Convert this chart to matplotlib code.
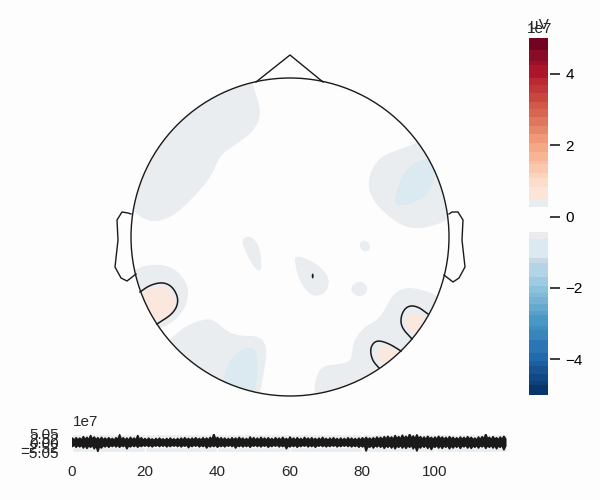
#!/usr/bin/env python3
"""Topomap with a colorbar and a GFP style trace below it."""

import matplotlib
matplotlib.use("Agg")
import matplotlib.pyplot as plt
import numpy as np
from matplotlib.colors import BoundaryNorm, ListedColormap
from matplotlib.patches import Circle, Ellipse, Polygon

head_center = (290, 237)
head_radius = 159
nose = [(256, 82), (290, 55), (323, 82)]
left_ear = [(131, 214), (128, 213), (122, 212), (117, 220), (118, 240),
            (115, 267), (121, 278), (127, 281), (136, 274)]
right_ear = [(449, 214), (452, 212), (458, 212), (463, 220), (462, 240),
             (465, 267), (459, 278), (453, 282), (444, 275)]

# filled regions of the map
grey_regions = [
    [(252, 83), (258, 100), (261, 115), (254, 131), (235, 145), (220, 155), (213, 173),
     (202, 188), (182, 209), (167, 219), (153, 222), (140, 217), (128, 205), (115, 190),
     (120, 120), (200, 60), (250, 70)],
    [(133, 270), (150, 264), (171, 266), (185, 279), (189, 293), (185, 309), (171, 324),
     (158, 329), (140, 335), (118, 300), (120, 275)],
    [(170, 339), (187, 325), (208, 318), (218, 323), (228, 332), (240, 336), (260, 336),
     (267, 347), (265, 367), (260, 392), (257, 415), (210, 410), (165, 370), (160, 350)],
    [(295, 255), (310, 260), (322, 268), (330, 280), (326, 293), (315, 297), (305, 290),
     (298, 277), (295, 263)],
    [(241, 240), (250, 235), (260, 246), (262, 272), (255, 269), (246, 253)],
    [(365, 240), (370, 244), (370, 250), (364, 252), (360, 248), (360, 242)],
    [(359, 281), (366, 284), (368, 291), (363, 296), (356, 296), (351, 291), (352, 285)],
    [(368, 178), (378, 158), (400, 149), (415, 144), (430, 133), (460, 170), (455, 216),
     (430, 228), (405, 228), (384, 213), (370, 196)],
    [(440, 296), (423, 290), (407, 287), (394, 293), (386, 307), (379, 319), (364, 327),
     (354, 340), (352, 352), (351, 361), (340, 364), (322, 366), (316, 377), (314, 392),
     (318, 415), (400, 395), (450, 330)],
]
blue_regions = [
    [(394, 199), (402, 175), (415, 162), (432, 157), (436, 175), (427, 196), (410, 204),
     (397, 206)],
    [(224, 374), (232, 357), (245, 347), (256, 349), (258, 363), (256, 387), (254, 398),
     (240, 405), (222, 392)],
]
orange_regions = [
    [(141, 293), (155, 286), (166, 286), (174, 295), (176, 304), (171, 314), (158, 324),
     (140, 330), (128, 300)],
    [(406, 317), (412, 312), (420, 314), (426, 320), (416, 333), (412, 335), (406, 325)],
    [(377, 352), (383, 345), (391, 347), (402, 353), (386, 367), (379, 361)],
]
contour_lines = [
    [(140, 292), (150, 285), (163, 282), (173, 287), (179, 300), (174, 313), (157, 324)],
    [(428, 314), (417, 306), (407, 306), (401, 315), (401, 327), (412, 339)],
    [(401, 351), (388, 343), (376, 340), (370, 348), (372, 360), (379, 368)],
]
peak_spot = (312.7, 276)

# colorbar bands, from the top down
cbar_levels = [5.0, 4.66, 4.36, 4.24, 3.89, 3.68, 3.46, 3.22, 3.01, 2.78, 2.54, 2.31, 2.05,
               1.82, 1.56, 1.47, 1.23, 1.07, 0.83, 0.46, 0.27, -0.43, -0.63, -1.16, -1.29,
               -1.69, -1.94, -2.14, -2.26, -2.45, -2.65, -2.76, -3.07, -3.18, -3.46, -3.82,
               -4.05, -4.19, -4.41, -4.61, -4.72, -5.0]
cbar_ticks = [-4, -2, 0, 2, 4]
cbar_tick_labels = ["\u22124", "\u22122", "0", "2", "4"]

# trace envelope in units of 1e7: a peak each second and the dip after it
upper_peaks = [2.8, 3.0, 2.8, 3.6, 3.2, 4.2, 3.4, 3.0, 3.2, 2.8, 3.0, 2.6, 3.0, 4.6, 3.0, 2.8,
               3.2, 2.8, 4.2, 3.0, 2.6, 2.8, 2.4, 2.6, 2.8, 2.4, 2.6, 2.8, 2.4, 2.6, 2.8, 3.0,
               2.6, 2.8, 3.0, 2.6, 3.0, 2.8, 3.2, 5.0, 3.2, 3.0, 2.8, 2.6, 3.0, 2.8, 3.2, 2.8,
               2.6, 3.4, 3.0, 2.8, 3.2, 2.8, 3.0, 2.6, 3.0, 2.8, 3.2, 2.6, 3.4, 2.8, 3.0, 2.6,
               3.2, 2.8, 3.0, 2.6, 2.8, 3.2, 2.6, 2.8, 3.0, 2.6, 2.8, 2.6, 3.0, 2.8, 2.6, 2.8,
               3.0, 3.2, 2.8, 3.0, 3.4, 3.2, 3.6, 3.8, 3.4, 4.2, 3.6, 4.4, 3.8, 5.0, 4.0, 4.6,
               3.6, 3.4, 3.8, 3.2, 3.4, 3.8, 3.4, 3.2, 3.6, 3.2, 3.0, 3.4, 3.2, 3.6, 3.2, 2.8,
               3.4, 3.6, 5.0, 3.2, 3.6, 3.0, 3.4, 3.8]
upper_dips = [1.6, 1.8, 1.7, 2.0, 1.8, 2.1, 1.9, 1.6, 1.8, 1.7, 1.8, 1.6, 1.9, 1.8, 1.7, 1.6,
              1.9, 1.7, 1.8, 1.6, 1.5, 1.7, 1.4, 1.6, 1.7, 1.5, 1.6, 1.7, 1.5, 1.6, 1.7, 1.8,
              1.6, 1.7, 1.8, 1.6, 1.8, 1.7, 1.9, 2.0, 1.8, 1.7, 1.6, 1.5, 1.8, 1.7, 1.8, 1.6,
              1.5, 1.9, 1.7, 1.6, 1.8, 1.6, 1.7, 1.5, 1.7, 1.6, 1.8, 1.5, 1.8, 1.6, 1.7, 1.5,
              1.8, 1.6, 1.7, 1.5, 1.6, 1.8, 1.5, 1.6, 1.7, 1.5, 1.6, 1.5, 1.7, 1.6, 1.5, 1.6,
              1.7, 1.9, 1.7, 1.8, 2.0, 1.9, 2.2, 2.3, 2.0, 2.4, 2.2, 2.5, 2.3, 2.6, 2.3, 2.5,
              2.1, 2.0, 2.3, 1.9, 2.0, 2.3, 2.0, 1.9, 2.2, 1.9, 1.8, 2.0, 1.9, 2.2, 1.9, 1.7,
              2.0, 2.2, 2.4, 1.9, 2.2, 1.8, 2.0, 2.3]
lower_peaks = [-1.8, -2.2, -2.0, -2.6, -2.8, -2.2, -3.0, -4.4, -2.6, -2.0, -2.2, -1.8, -2.0,
               -2.2, -1.8, -3.0, -2.0, -1.8, -2.2, -1.8, -1.6, -1.8, -2.0, -1.6, -1.8, -1.6,
               -2.0, -1.8, -1.6, -1.8, -2.0, -1.6, -2.4, -1.8, -1.6, -2.0, -1.8, -2.6, -2.0,
               -1.8, -2.2, -1.8, -2.0, -1.6, -1.8, -2.6, -1.8, -2.0, -1.8, -2.2, -1.6, -1.8,
               -2.0, -1.6, -2.2, -1.8, -1.6, -2.0, -1.8, -3.0, -2.0, -1.8, -2.2, -1.8, -1.6,
               -2.0, -1.8, -2.2, -1.6, -1.8, -2.0, -1.8, -1.6, -2.0, -1.8, -1.6, -1.8, -2.0,
               -1.8, -2.2, -2.0, -4.2, -2.2, -2.6, -2.0, -2.2, -2.8, -2.2, -2.6, -3.0, -2.2,
               -2.6, -2.8, -2.2, -3.0, -4.2, -2.6, -2.2, -2.8, -3.4, -2.2, -2.6, -2.8, -2.2,
               -3.0, -2.6, -2.2, -2.8, -2.0, -2.6, -2.8, -2.2, -2.6, -2.0, -2.8, -2.2, -2.6,
               -3.0, -2.2, -3.6]
lower_dips = [-0.9, -1.1, -1.0, -1.2, -1.3, -1.1, -1.4, -1.6, -1.2, -1.0, -1.1, -0.9, -1.0,
              -1.1, -0.9, -1.3, -1.0, -0.9, -1.1, -0.9, -0.8, -0.9, -1.0, -0.8, -0.9, -0.8,
              -1.0, -0.9, -0.8, -0.9, -1.0, -0.8, -1.1, -0.9, -0.8, -1.0, -0.9, -1.2, -1.0,
              -0.9, -1.1, -0.9, -1.0, -0.8, -0.9, -1.2, -0.9, -1.0, -0.9, -1.1, -0.8, -0.9,
              -1.0, -0.8, -1.1, -0.9, -0.8, -1.0, -0.9, -1.3, -1.0, -0.9, -1.1, -0.9, -0.8,
              -1.0, -0.9, -1.1, -0.8, -0.9, -1.0, -0.9, -0.8, -1.0, -0.9, -0.8, -0.9, -1.0,
              -0.9, -1.1, -1.0, -1.6, -1.1, -1.2, -1.0, -1.1, -1.3, -1.1, -1.2, -1.4, -1.1,
              -1.2, -1.3, -1.1, -1.4, -1.6, -1.2, -1.1, -1.3, -1.5, -1.1, -1.2, -1.3, -1.1,
              -1.4, -1.2, -1.1, -1.3, -1.0, -1.2, -1.3, -1.1, -1.2, -1.0, -1.3, -1.1, -1.2,
              -1.4, -1.1, -1.5]
trace_ticks_x = [0, 20, 40, 60, 80, 100]
trace_ticks_y = [-5.05, -2.52, 0.0, 2.52, 5.05]
trace_tick_labels = ["\u22125.05", "\u22122.52", "0.00", "2.52", "5.05"]

bg = "#fdfdfd"
panel = "#e9edf0"
ink = "#1a1a1a"
text_color = "#262626"
W, H = 600, 500

plt.rcParams["font.family"] = ["Liberation Sans", "DejaVu Sans"]
plt.rcParams["font.size"] = 11


def smooth(points, closed=True, rounds=3):
    # corner cutting, so the hand read outlines do not look like polygons
    pts = np.asarray(points, dtype=float)
    for _ in range(rounds):
        nxt = np.roll(pts, -1, axis=0) if closed else pts[1:]
        cur = pts if closed else pts[:-1]
        q = 0.75 * cur + 0.25 * nxt
        r = 0.25 * cur + 0.75 * nxt
        out = np.empty((len(q) * 2, 2))
        out[0::2] = q
        out[1::2] = r
        pts = out if closed else np.vstack([pts[0], out, pts[-1]])
    return pts


def add_axes_px(fig, left, top, right, bottom):
    return fig.add_axes([left / W, 1 - bottom / H, (right - left) / W, (bottom - top) / H])


fig = plt.figure(figsize=(6, 5), dpi=100, facecolor=bg)

# map
ax = fig.add_axes([0, 0, 1, 1])
ax.set_xlim(0, W)
ax.set_ylim(H, 0)
ax.axis("off")

head_clip = Circle(head_center, head_radius, transform=ax.transData)
for regions, color in [(grey_regions, "#e9edf0"), (blue_regions, "#dbe9f1"), (orange_regions, "#fae8df")]:
    for region in regions:
        patch = Polygon(smooth(region), closed=True, fc=color, ec="none", zorder=1)
        ax.add_patch(patch)
        patch.set_clip_path(head_clip)

for line in contour_lines:
    xy = smooth(line, closed=False)
    ax.plot(xy[:, 0], xy[:, 1], color=ink, lw=1.1, zorder=2)
ax.add_patch(Ellipse(peak_spot, 2, 5, fc=ink, ec="none", zorder=2))

ax.add_patch(Circle(head_center, head_radius, fc="none", ec=ink, lw=1.0, zorder=3))
for outline in (nose, left_ear, right_ear):
    ax.plot(*zip(*outline), color=ink, lw=1.0, zorder=3)

# colorbar
cax = add_axes_px(fig, 529, 38, 548, 395)
levels = np.array(cbar_levels[::-1])
mids = (levels[:-1] + levels[1:]) / 2
colors = [plt.get_cmap("RdBu_r")((m + 5) / 10) for m in mids]
low_end = list(cbar_levels[::-1])
colors[low_end.index(0.27)] = "#e9edf0"
colors[low_end.index(-0.43)] = bg
colors[low_end.index(-0.63)] = "#e9ebee"
colors[low_end.index(-1.16)] = "#dbe9f1"
colors[low_end.index(-1.29)] = "#c8d9e4"
cax.pcolormesh([0, 1], levels, mids[:, None], cmap=ListedColormap(colors),
               norm=BoundaryNorm(levels, len(colors)), shading="flat")
cax.set_xticks([])
cax.yaxis.tick_right()
cax.set_yticks(cbar_ticks)
cax.set_yticklabels(cbar_tick_labels, color=text_color)
cax.tick_params(axis="y", length=7, width=1.25, color=text_color, pad=4)
for spine in cax.spines.values():
    spine.set_color("none")
cax.spines["right"].set_position(("outward", 1.5))
fig.text(527 / W, 1 - 33 / H, "1e7", color=text_color, fontsize=11, va="baseline")
fig.text(549 / W, 1 - 29 / H, "\u00b5V", color=text_color, fontsize=11, ha="right", va="baseline")

# trace
tax = add_axes_px(fig, 72, 433.5, 507, 452)
upper = np.column_stack([upper_peaks, upper_dips]).ravel()
lower = np.column_stack([lower_peaks, lower_dips]).ravel()
times = np.arange(len(upper)) * 0.5
tax.set_facecolor(panel)
tax.fill_between(times, lower, upper, color=ink, lw=1.2, zorder=3)
tax.set_xlim(0, 120)
tax.set_ylim(-5.05, 5.05)
tax.set_xticks(trace_ticks_x)
tax.set_yticks(trace_ticks_y)
tax.set_yticklabels(trace_tick_labels, color=text_color)
tax.tick_params(axis="both", length=0, labelcolor=text_color)
tax.tick_params(axis="x", pad=9)
tax.tick_params(axis="y", pad=9.7)
tax.grid(True, color="white", lw=1.0, zorder=1)
tax.set_axisbelow(True)
for spine in tax.spines.values():
    spine.set_visible(False)
fig.text(73 / W, 1 - 426 / H, "1e7", color=text_color, fontsize=11, va="baseline")

fig.savefig("out.png", dpi=100, facecolor=bg)
